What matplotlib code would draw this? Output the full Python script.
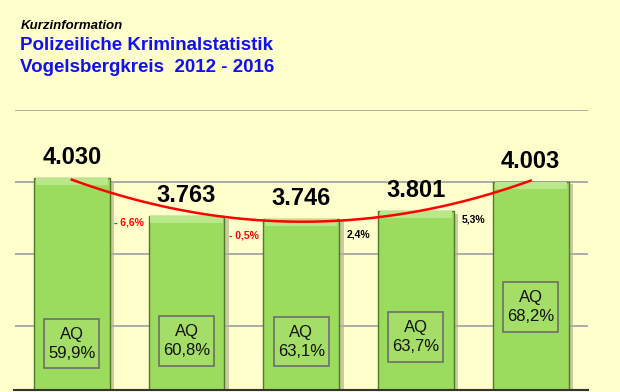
"""Kurzinformation PKS Vogelsbergkreis 2012-2016 - bar chart with trend curve."""

import matplotlib

matplotlib.use("Agg")
import matplotlib.pyplot as plt  # noqa: E402
import numpy as np  # noqa: E402
from matplotlib.patches import Rectangle  # noqa: E402

years = ["2012", "2013", "2014", "2015", "2016"]
cases = [4030, 3763, 3746, 3801, 4003]
case_labels = ["4.030", "3.763", "3.746", "3.801", "4.003"]
aq_labels = ["59,9%", "60,8%", "63,1%", "63,7%", "68,2%"]
change_labels = ["- 6,6%", "- 0,5%", "2,4%", "5,3%"]
change_colors = ["#FF0000", "#FF0000", "black", "black"]

# layout only (data-space y of annotations)
change_y = [3722, 3632, 3639, 3743]
aq_y = [2878, 2896, 2892, 2924, 3132]

BG = "#FFFFCC"
BAR = "#9BDB5E"
BAR_TOP = "#B9E88A"
BAR_EDGE = "#4F7A28"

fig = plt.figure(figsize=(6.2, 3.92), dpi=100)
fig.patch.set_facecolor(BG)

ax = fig.add_axes([14.5 / 620, 2 / 392, 573.5 / 620, 280 / 392])
ax.set_facecolor(BG)
ax.set_xlim(-0.5, 4.5)
ax.set_ylim(2556, 4500)

x = np.arange(len(cases))
width = 0.66

for gy in [3000, 3500, 4000, 4500]:
    ax.axhline(gy, color="#A6A6A6", lw=1.3, zorder=0)

# shadow behind bars
ax.bar(x + 0.04, np.array(cases) - 20, width=width, bottom=0,
       color="#B5B590", alpha=0.7, zorder=1)
ax.bar(x, cases, width=width, color=BAR, edgecolor=BAR_EDGE, linewidth=1.0, zorder=2)
# lighter bevel at the top
ax.bar(x, [50] * len(cases), bottom=np.array(cases) - 50, width=width - 0.03,
       color=BAR_TOP, linewidth=0, zorder=3)

for xi, val, lab in zip(x, cases, case_labels):
    ax.annotate(lab, (xi, val), xytext=(0, 6.5), textcoords="offset points",
                ha="center", va="bottom", fontsize=17, fontweight="bold",
                family="Liberation Sans", color="black", zorder=5)

for i, (lab, col, yy) in enumerate(zip(change_labels, change_colors, change_y)):
    ax.text(i + 0.5, yy, lab, ha="center", va="center", fontsize=7.5,
            fontweight="bold", family="Liberation Sans", color=col, zorder=5)

box_w, box_h = 0.48, 345
for xi, lab, yy in zip(x, aq_labels, aq_y):
    ax.add_patch(Rectangle((xi - box_w / 2, yy - box_h / 2), box_w, box_h,
                           facecolor="#A4DE66", edgecolor="#6E6E6E", lw=1.2, zorder=4))
    ax.text(xi, yy, "AQ\n" + lab, ha="center", va="center", fontsize=12,
            family="Liberation Sans", color="#111111", linespacing=1.35, zorder=5)

# quadratic trend line through the values
coef = np.polyfit(x, cases, 2)
xs = np.linspace(0, 4, 200)
ax.plot(xs, np.polyval(coef, xs), color="#FF0000", lw=1.8, zorder=6)

ax.set_xticks([])
ax.set_yticks([])
for side in ["left", "right", "top"]:
    ax.spines[side].set_visible(False)
ax.spines["bottom"].set_color("#333333")
ax.spines["bottom"].set_linewidth(1.5)

fig.text(21 / 620, 1 - 26 / 392, "Kurzinformation", fontsize=9.5, fontweight="bold",
         fontstyle="italic", family="Liberation Sans", color="black", va="center")
fig.text(20 / 620, 1 - 45 / 392, "Polizeiliche Kriminalstatistik", fontsize=13.5,
         fontweight="bold", family="Liberation Sans", color="#1010F0", va="center")
fig.text(20 / 620, 1 - 67 / 392, "Vogelsbergkreis  2012 - 2016", fontsize=13.5,
         fontweight="bold", family="Liberation Sans", color="#1010F0", va="center")

fig.savefig("out.png", dpi=100, facecolor=BG)
